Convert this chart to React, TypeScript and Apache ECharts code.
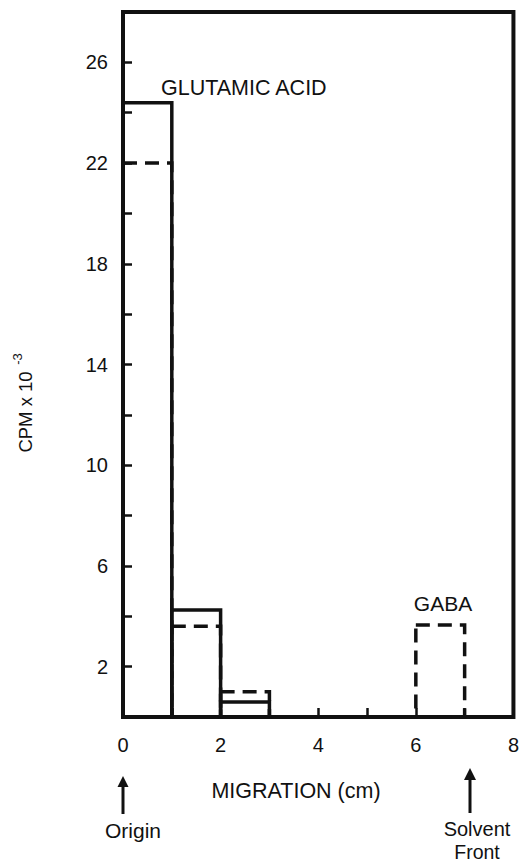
import React, { useEffect, useRef } from "react";
import * as echarts from "echarts";

// Histogram bins: [start cm, end cm, CPM x 10^-3]
const solidBins: number[][] = [
  [0, 1, 24.4],
  [1, 2, 4.25],
  [2, 3, 0.6],
];
const dashedBins: number[][] = [
  [0, 1, 22.0],
  [1, 2, 3.6],
  [2, 3, 1.0],
  [6, 7, 3.65],
];
const xMin = 0;
const xMax = 8;
const yMin = 0;
const yMax = 28;
const xLabelValues = [0, 2, 4, 6, 8];
const yLabelValues = [2, 6, 10, 14, 18, 22, 26];

const FONT = "'Liberation Sans', Arial, Helvetica, sans-serif";
const INK = "#111";

function boxRender(dashed: boolean) {
  return (params: any, api: any) => {
    const x0 = api.value(0);
    const x1 = api.value(1);
    const v = api.value(2);
    const p0 = api.coord([x0, v]);
    const p1 = api.coord([x1, 0]);
    return {
      type: "rect",
      shape: { x: p0[0], y: p0[1], width: p1[0] - p0[0], height: p1[1] - p0[1] },
      style: {
        fill: "none",
        stroke: INK,
        lineWidth: 3.5,
        lineDash: dashed ? [14, 8] : null,
      },
      z2: dashed ? 1 : 2,
    };
  };
}

function arrow(x: number, tip: number, base: number, bottom: number, half: number) {
  return [
    {
      type: "line",
      shape: { x1: x, y1: base - 1, x2: x, y2: bottom },
      style: { stroke: INK, lineWidth: 3 },
    },
    {
      type: "polygon",
      shape: { points: [[x, tip], [x - half, base], [x + half, base]] },
      style: { fill: INK },
    },
  ];
}

function label(text: string, x: number, y: number, size: number, align = "center") {
  return {
    type: "text",
    x,
    y,
    style: {
      text,
      fill: INK,
      font: `${size}px ${FONT}`,
      textAlign: align,
      textVerticalAlign: "middle",
    },
  };
}

export default function App() {
  const ref = useRef<HTMLDivElement>(null);
  useEffect(() => {
    if (!ref.current) return;
    const chart = echarts.init(ref.current, null, { renderer: "svg" });
    chart.setOption({
      animation: false,
      backgroundColor: "#fff",
      grid: {
        left: 123,
        right: 5,
        top: 12,
        bottom: 146,
        show: true,
        borderColor: INK,
        borderWidth: 4,
        backgroundColor: "transparent",
      },
      xAxis: {
        type: "value",
        min: xMin,
        max: xMax,
        interval: 1,
        axisLine: { show: false },
        splitLine: { show: false },
        axisTick: { show: true, inside: true, length: 9, lineStyle: { color: INK, width: 2.5 } },
        axisLabel: {
          margin: 18,
          color: INK,
          fontSize: 20,
          fontFamily: FONT,
          formatter: (v: number) => (xLabelValues.includes(v) ? String(v) : ""),
        },
      },
      yAxis: {
        type: "value",
        min: yMin,
        max: yMax,
        interval: 2,
        axisLine: { show: false },
        splitLine: { show: false },
        axisTick: { show: true, inside: true, length: 9, lineStyle: { color: INK, width: 2.5 } },
        axisLabel: {
          margin: 15,
          color: INK,
          fontSize: 20,
          fontFamily: FONT,
          formatter: (v: number) => (yLabelValues.includes(v) ? String(v) : ""),
        },
      },
      series: [
        {
          type: "custom",
          name: "dashed",
          renderItem: boxRender(true),
          data: dashedBins,
          encode: { x: [0, 1], y: 2 },
          clip: false,
          z: 2,
        },
        {
          type: "custom",
          name: "solid",
          renderItem: boxRender(false),
          data: solidBins,
          encode: { x: [0, 1], y: 2 },
          clip: false,
          z: 3,
        },
      ],
      graphic: [
        label("GLUTAMIC ACID", 161, 88, 21.5, "left"),
        label("GABA", 443, 603, 21),
        label("MIGRATION (cm)", 296, 791, 21.5),
        label("Origin", 133, 830, 21),
        label("Solvent", 477, 829, 20),
        label("Front", 477, 852, 19.5),
        {
          type: "text",
          x: 25,
          y: 412,
          rotation: Math.PI / 2,
          style: {
            text: "CPM x 10",
            fill: INK,
            font: `18.5px ${FONT}`,
            textAlign: "center",
            textVerticalAlign: "middle",
          },
        },
        {
          type: "text",
          x: 17,
          y: 359,
          rotation: Math.PI / 2,
          style: {
            text: "-3",
            fill: INK,
            font: `13px ${FONT}`,
            textAlign: "center",
            textVerticalAlign: "middle",
          },
        },
        ...arrow(123, 776, 787, 814, 5.5),
        ...arrow(470, 768, 780, 813, 6),
      ],
    });
    return () => chart.dispose();
  }, []);
  return (
    <div
      ref={ref}
      style={{ position: "fixed", left: 0, top: 0, width: 522, height: 863 }}
    />
  );
}
